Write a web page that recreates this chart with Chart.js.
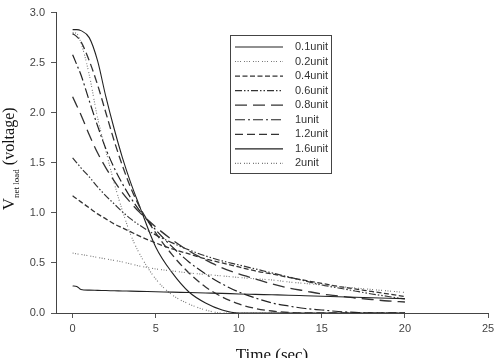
<!DOCTYPE html>
<html>
<head>
<meta charset="utf-8">
<script src="https://cdn.jsdelivr.net/npm/chart.js@4.4.0/dist/chart.umd.min.js"></script>
<style>
  html, body { margin: 0; padding: 0; background: #fff; }
  #wrap { width: 494px; height: 358px; }
</style>
</head>
<body>
<div id="wrap"><canvas id="voltChart" width="494" height="358"></canvas></div>
<script>
// Discharge curves (seconds / volts)
const times = [0, 0.25, 0.5, 1, 1.5, 2, 2.5, 3, 3.5, 4, 5, 6, 7, 8, 9, 10, 11, 12, 13, 14, 15, 16, 17, 18, 19, 20];

const unit01 = [0.27, 0.265, 0.235, 0.228, 0.226, 0.224, 0.222, 0.22, 0.218, 0.216, 0.212, 0.208, 0.204, 0.2, 0.196, 0.19, 0.186, 0.182, 0.178, 0.173, 0.168, 0.163, 0.158, 0.153, 0.148, 0.143];
const unit02 = [0.60, 0.59, 0.585, 0.57, 0.555, 0.54, 0.525, 0.51, 0.49, 0.47, 0.44, 0.42, 0.40, 0.385, 0.37, 0.355, 0.342, 0.33, 0.31, 0.295, 0.28, 0.265, 0.25, 0.235, 0.22, 0.205];
const unit04 = [1.17, 1.14, 1.11, 1.05, 0.99, 0.94, 0.89, 0.85, 0.81, 0.77, 0.70, 0.64, 0.59, 0.54, 0.50, 0.46, 0.42, 0.39, 0.355, 0.325, 0.295, 0.265, 0.24, 0.215, 0.19, 0.165];
const unit06 = [1.55, 1.50, 1.45, 1.36, 1.26, 1.17, 1.09, 1.01, 0.94, 0.88, 0.78, 0.70, 0.63, 0.57, 0.52, 0.48, 0.44, 0.40, 0.36, 0.32, 0.28, 0.25, 0.22, 0.19, 0.165, 0.14];
const unit08 = [2.16, 2.07, 1.98, 1.78, 1.60, 1.45, 1.32, 1.20, 1.10, 1.01, 0.86, 0.73, 0.62, 0.53, 0.45, 0.39, 0.34, 0.29, 0.25, 0.22, 0.19, 0.17, 0.15, 0.135, 0.12, 0.11];
const unit10 = [2.58, 2.48, 2.38, 2.12, 1.87, 1.64, 1.45, 1.29, 1.15, 1.03, 0.83, 0.66, 0.51, 0.39, 0.29, 0.21, 0.15, 0.10, 0.07, 0.045, 0.03, 0.015, 0.006, 0, 0, 0];
const unit12 = [2.79, 2.76, 2.71, 2.52, 2.28, 2.00, 1.72, 1.47, 1.25, 1.07, 0.80, 0.58, 0.40, 0.26, 0.16, 0.09, 0.045, 0.02, 0.005, 0, 0, 0, 0, 0, 0, 0];
const unit16 = [2.83, 2.83, 2.82, 2.75, 2.52, 2.16, 1.84, 1.55, 1.30, 1.08, 0.66, 0.40, 0.21, 0.10, 0.03, 0, 0, 0, 0, 0, 0, 0, 0, 0, 0, 0];
const unit20 = [2.80, 2.79, 2.70, 2.38, 1.95, 1.62, 1.30, 1.02, 0.78, 0.60, 0.34, 0.18, 0.09, 0.03, 0, 0, 0, 0, 0, 0, 0, 0, 0, 0, 0, 0];

const seriesLabels = ['0.1unit', '0.2unit', '0.4unit', '0.6unit', '0.8unit', '1unit', '1.2unit', '1.6unit', '2unit'];
const seriesValues = [unit01, unit02, unit04, unit06, unit08, unit10, unit12, unit16, unit20];

const xTicks = [0, 5, 10, 15, 20, 25];
const yTicks = [0, 0.5, 1.0, 1.5, 2.0, 2.5, 3.0];

// line look for each series, same order as seriesLabels
const styles = [
    { color: '#222', dash: [], width: 1.1 },
    { color: '#777', dash: [1, 1.5, 1, 1.5, 1, 3], width: 1.1 },
    { color: '#333', dash: [5, 2.5], width: 1.3 },
    { color: '#333', dash: [7, 2, 1.5, 2, 1.5, 2], width: 1.2 },
    { color: '#333', dash: [12, 6], width: 1.3 },
    { color: '#222', dash: [10, 3, 2, 3], width: 1.2 },
    { color: '#333', dash: [8, 4], width: 1.3 },
    { color: '#222', dash: [], width: 1.1 },
    { color: '#777', dash: [1, 1.5, 1, 1.5, 1, 3], width: 1.1 }
];

const datasets = seriesLabels.map(function(label, i) {
    return {
        label: label,
        data: times.map(function(t, j) { return { x: t, y: seriesValues[i][j] }; }),
        borderColor: styles[i].color,
        borderDash: styles[i].dash,
        borderWidth: styles[i].width,
        pointRadius: 0,
        fill: false,
        cubicInterpolationMode: 'monotone'
    };
});

// legend box + axis titles drawn by hand (boxed legend inside plot, subscript in y title)
const decorPlugin = {
    id: 'decor',
    afterDraw: function(chart) {
        const ctx = chart.ctx;
        const area = chart.chartArea;
        ctx.save();

        // legend
        ctx.strokeStyle = '#444';
        ctx.lineWidth = 1;
        ctx.setLineDash([]);
        ctx.strokeRect(230.5, 35.5, 101, 138);
        ctx.font = '11px "Liberation Sans", Arial, sans-serif';
        ctx.textBaseline = 'middle';
        ctx.textAlign = 'left';
        chart.data.datasets.forEach(function(ds, i) {
            const y = 47 + i * 14.55;
            ctx.strokeStyle = ds.borderColor;
            ctx.lineWidth = ds.borderWidth;
            ctx.setLineDash(ds.borderDash);
            ctx.beginPath();
            ctx.moveTo(235, y);
            ctx.lineTo(283, y);
            ctx.stroke();
            ctx.fillStyle = '#333';
            ctx.fillText(ds.label, 295, y);
        });
        ctx.setLineDash([]);

        // x title
        ctx.fillStyle = '#111';
        ctx.font = '17px "Liberation Serif", "Times New Roman", serif';
        ctx.textAlign = 'center';
        ctx.textBaseline = 'alphabetic';
        ctx.fillText('Time (sec)', (area.left + area.right) / 2, 360);

        // y title, rotated, with subscript
        const big = '17px "Liberation Serif", "Times New Roman", serif';
        const small = '9px "Liberation Serif", "Times New Roman", serif';
        const mid = '16px "Liberation Serif", "Times New Roman", serif';
        ctx.font = big;
        const wV = ctx.measureText('V').width;
        ctx.font = small;
        const wSub = ctx.measureText('net load').width;
        ctx.font = mid;
        const wRest = ctx.measureText(' (voltage)').width;
        const total = wV + wSub + wRest;
        ctx.translate(14, (area.top + area.bottom) / 2 - 4);
        ctx.rotate(-Math.PI / 2);
        ctx.textAlign = 'left';
        let x = -total / 2;
        ctx.font = big;
        ctx.fillText('V', x, 0);
        x += wV;
        ctx.font = small;
        ctx.fillText('net load', x, 5);
        x += wSub;
        ctx.font = mid;
        ctx.fillText(' (voltage)', x, 0);

        ctx.restore();
    }
};

const tickFont = { family: '"Liberation Sans", Arial, sans-serif', size: 11 };

new Chart(document.getElementById('voltChart').getContext('2d'), {
    type: 'line',
    data: { datasets: datasets },
    options: {
        responsive: false,
        animation: false,
        devicePixelRatio: 1,
        layout: { padding: { left: 0, top: 10, right: 6, bottom: 0 } },
        plugins: {
            legend: { display: false },
            tooltip: { enabled: false }
        },
        scales: {
            x: {
                type: 'linear',
                min: -1,
                max: 25,
                afterBuildTicks: function(scale) {
                    scale.ticks = xTicks.map(function(v) { return { value: v }; });
                },
                afterFit: function(scale) {
                    scale.height = 45;
                    scale.paddingLeft = 0;
                    scale.paddingRight = 0;
                },
                grid: { display: true, drawOnChartArea: false, drawTicks: true, tickLength: 5, color: '#555' },
                border: { display: true, color: '#444', width: 1 },
                ticks: { color: '#444', font: tickFont, padding: 4, maxRotation: 0 }
            },
            y: {
                type: 'linear',
                min: 0,
                max: 3,
                afterBuildTicks: function(scale) {
                    scale.ticks = yTicks.map(function(v) { return { value: v }; });
                },
                afterFit: function(scale) {
                    scale.width = 56;
                },
                grid: { display: true, drawOnChartArea: false, drawTicks: true, tickLength: 5, color: '#555' },
                border: { display: true, color: '#444', width: 1 },
                ticks: {
                    color: '#444',
                    font: tickFont,
                    padding: 6,
                    callback: function(value) { return value.toFixed(1); }
                }
            }
        }
    },
    plugins: [decorPlugin]
});
</script>
</body>
</html>
